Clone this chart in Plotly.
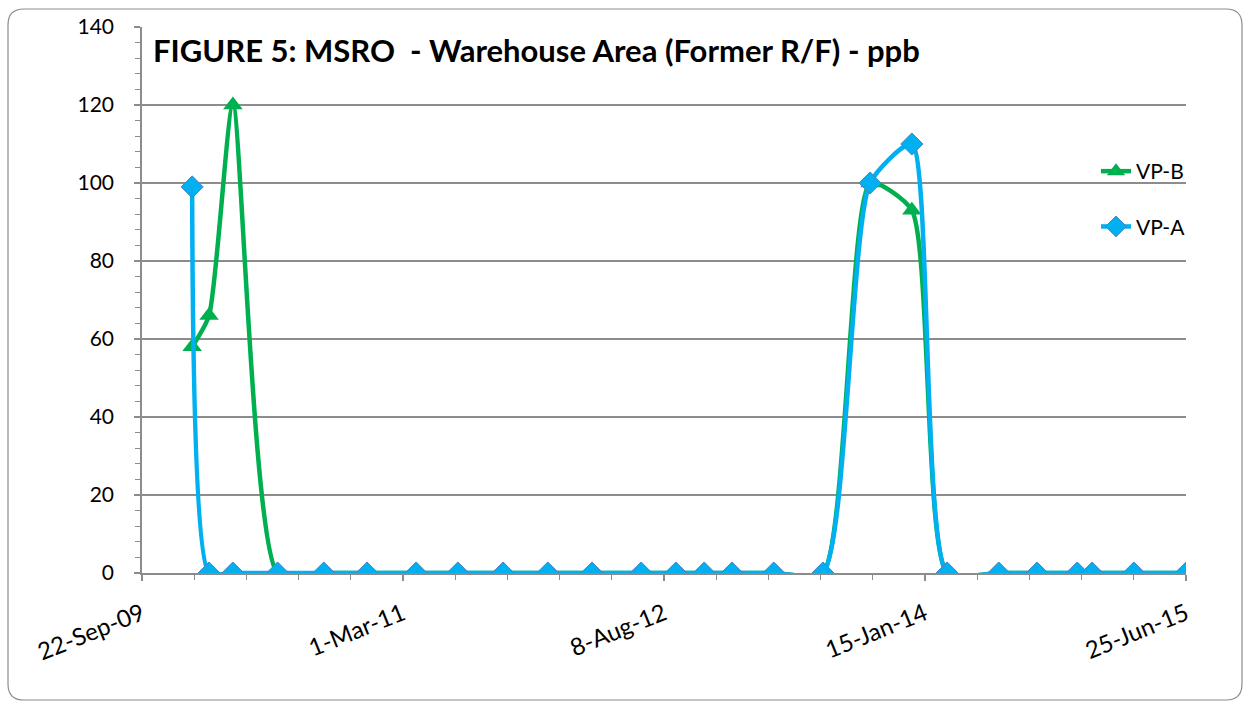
import plotly.graph_objects as go
import pandas as pd

# ---------------- data ----------------
dates_b = ["2010-01-01", "2010-02-04", "2010-03-24", "2010-06-22", "2010-09-23",
           "2010-12-19", "2011-03-28", "2011-06-20", "2011-09-19", "2011-12-18",
           "2012-03-16", "2012-06-23", "2012-09-01", "2012-10-28", "2012-12-23",
           "2013-03-17", "2013-06-24", "2013-09-27", "2013-12-20", "2014-03-01",
           "2014-06-13", "2014-08-29", "2014-11-18", "2014-12-18", "2015-03-12",
           "2015-06-25"]
vp_b = [58, 66, 120, 0, 0, 0, 0, 0, 0, 0, 0, 0, 0, 0, 0, 0, 0, 100, 93, 0,
        0, 0, 0, 0, 0, 0]

dates_a = ["2010-01-01", "2010-02-04", "2010-03-24", "2010-06-22", "2010-09-23",
           "2010-12-19", "2011-03-28", "2011-06-20", "2011-09-19", "2011-12-18",
           "2012-03-16", "2012-06-23", "2012-09-01", "2012-10-28", "2012-12-23",
           "2013-03-17", "2013-06-24", "2013-09-27", "2013-12-20", "2014-03-01",
           "2014-06-13", "2014-08-29", "2014-11-18", "2014-12-18", "2015-03-12",
           "2015-06-25"]
vp_a = [99, 0, 0, 0, 0, 0, 0, 0, 0, 0, 0, 0, 0, 0, 0, 0, 0, 100, 110, 0,
        0, 0, 0, 0, 0, 0]

tick_dates = ["2009-09-22", "2011-03-01", "2012-08-08", "2014-01-15", "2015-06-25"]
tick_labels = ["22-Sep-09", "1-Mar-11", "8-Aug-12", "15-Jan-14", "25-Jun-15"]
y_ticks = [0, 20, 40, 60, 80, 100, 120, 140]

title_text = "FIGURE 5: MSRO  - Warehouse Area (Former R/F) - ppb"

# ---------------- layout constants ----------------
W, H = 1250, 704
L, R, T, B = 142, 64, 27, 131
PW, PH = W - L - R, H - T - B
GREEN = "#00B050"
BLUE = "#00B0F0"
GRID = "#8C8C8C"
FONT = "Lato"
FS = 21

# minor ticks: 5 intervals between each pair of major ticks
majors = pd.to_datetime(tick_dates)
minor_vals = []
for a, b in zip(majors[:-1], majors[1:]):
    for k in range(1, 5):
        minor_vals.append(a + (b - a) * k / 5)

fig = go.Figure()
fig.add_trace(go.Scatter(
    x=dates_b, y=vp_b, name="VP-B", mode="lines+markers",
    line=dict(color=GREEN, width=4.5, shape="spline", smoothing=0.6),
    marker=dict(symbol="triangle-up", size=17, color=GREEN),
    legendgroup="b",
))
fig.add_trace(go.Scatter(
    x=dates_a, y=vp_a, name="VP-A", mode="lines+markers",
    line=dict(color=BLUE, width=4.5, shape="spline", smoothing=0.6),
    marker=dict(symbol="diamond", size=17, color=BLUE,
                line=dict(color="#4F81BD", width=1)),
    legendgroup="a",
))

def px_x(p):
    return (p - L) / PW

def px_y(p):
    return (H - B - p) / PH

# rounded outer border
x0, x1 = px_x(8), px_x(1242)
y0, y1 = px_y(9), px_y(700)
rx, ry = 16 / PW, 16 / PH
path = (f"M {x0+rx},{y0} L {x1-rx},{y0} Q {x1},{y0} {x1},{y0-ry} "
        f"L {x1},{y1+ry} Q {x1},{y1} {x1-rx},{y1} "
        f"L {x0+rx},{y1} Q {x0},{y1} {x0},{y1+ry} "
        f"L {x0},{y0-ry} Q {x0},{y0} {x0+rx},{y0} Z")
fig.add_shape(type="path", path=path, xref="paper", yref="paper",
              line=dict(color="#8C8C8C", width=1.2), layer="below")

fig.add_annotation(
    text="<b>" + title_text + "</b>", xref="paper", yref="paper",
    x=px_x(151), y=px_y(50), xanchor="left", yanchor="middle",
    showarrow=False, font=dict(family=FONT, size=31, color="black"),
)

fig.update_layout(
    width=W, height=H,
    margin=dict(l=L, r=R, t=T, b=B, pad=0),
    paper_bgcolor="white", plot_bgcolor="white",
    font=dict(family=FONT, size=FS, color="black"),
    showlegend=True,
    legend=dict(
        x=px_x(1096), y=px_y(151), xanchor="left", yanchor="top",
        bgcolor="rgba(0,0,0,0)", font=dict(family=FONT, size=FS),
        tracegroupgap=25, traceorder="grouped",
    ),
    xaxis=dict(
        type="date",
        range=[tick_dates[0], tick_dates[-1]],
        tickmode="array", tickvals=tick_dates, ticktext=tick_labels,
        tickangle=-22, showgrid=False, zeroline=False,
        showline=True, linecolor=GRID, linewidth=1.5,
        ticks="outside", ticklen=6, tickcolor=GRID, tickwidth=1.5,
        minor=dict(tickvals=minor_vals, ticks="outside", ticklen=5,
                   tickcolor=GRID, tickwidth=1.2, showgrid=False),
        tickfont=dict(family=FONT, size=24),
        ticklabelstandoff=10,
    ),
    yaxis=dict(
        range=[0, 140], tickmode="array", tickvals=y_ticks,
        showgrid=True, gridcolor=GRID, gridwidth=1.5,
        zeroline=False, showline=True, linecolor=GRID, linewidth=1.5,
        ticks="outside", ticklen=6, tickcolor=GRID, tickwidth=1.5,
        minor=dict(dtick=4, ticks="outside", ticklen=5, tickcolor=GRID,
                   tickwidth=1.2, showgrid=False),
        tickfont=dict(family=FONT, size=FS),
        ticklabelstandoff=16,
    ),
)

fig.write_html("out.html",
               config={"displayModeBar": False},
               post_script="document.body.style.margin='0';"
                           "document.body.style.overflow='hidden';")
